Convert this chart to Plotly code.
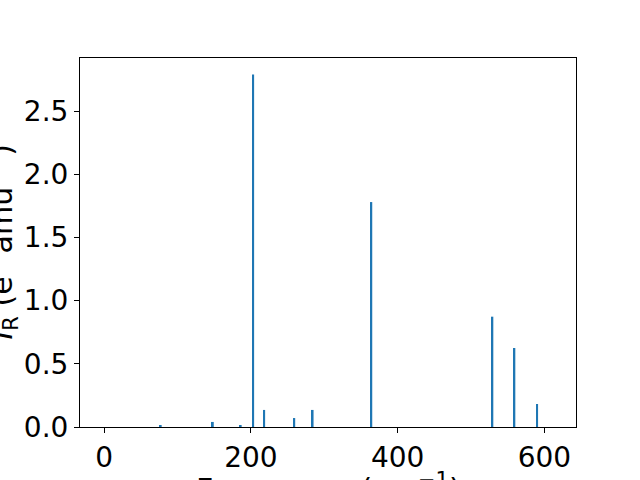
import plotly.graph_objects as go

freqs = [77, 148, 186, 203, 218, 259, 284, 364, 529, 559, 590]
intensities = [0.016, 0.04, 0.008, 2.79, 0.135, 0.071, 0.135, 1.78, 0.873, 0.625, 0.182]
x_ticks = [0, 200, 400, 600]
y_ticks = [0.0, 0.5, 1.0, 1.5, 2.0, 2.5]
y_tick_labels = ["0.0", "0.5", "1.0", "1.5", "2.0", "2.5"]

FONT = "DejaVu Sans"
fig = go.Figure(go.Bar(x=freqs, y=intensities, width=2.6,
                       marker=dict(color="#1f77b4", line=dict(width=0))))

L, R, T, B = 80, 64, 58, 53
ph = 480 - T - B
pw = 640 - L - R

axis_common = dict(showline=True, linecolor="black", linewidth=1, mirror=True,
                   ticks="outside", ticklen=5, tickcolor="black", showgrid=False,
                   zeroline=False, automargin=False,
                   tickfont=dict(family=FONT, size=28, color="black"))
fig.update_xaxes(range=[-33, 643], tickvals=x_ticks, **axis_common)
fig.update_yaxes(range=[0, 2.92], tickvals=y_ticks, ticktext=y_tick_labels, **axis_common)

fig.update_layout(
    width=640, height=480, margin=dict(l=L, r=R, t=T, b=B, autoexpand=False),
    paper_bgcolor="white", plot_bgcolor="white", showlegend=False,
    font=dict(family=FONT, color="black"),
    annotations=[
        dict(text="Frequency (cm<sup>−1</sup>)", xref="paper", yref="paper",
             x=(328 - 80) / pw, y=-(488 - 427) / ph, xanchor="center", yanchor="middle",
             showarrow=False, font=dict(family=FONT, size=30, color="black")),
        dict(text="<i>I</i><sub>R</sub> (e<sup>2</sup> amu<sup>−1</sup>)", xref="paper", yref="paper",
             x=-(80 - 2) / pw, y=0.5, xanchor="center", yanchor="middle", textangle=-90,
             showarrow=False, font=dict(family=FONT, size=30, color="black")),
    ],
)
fig.write_html("out.html", config={"displayModeBar": False},
               post_script="document.body.style.margin='0';document.body.style.overflow='hidden';")
